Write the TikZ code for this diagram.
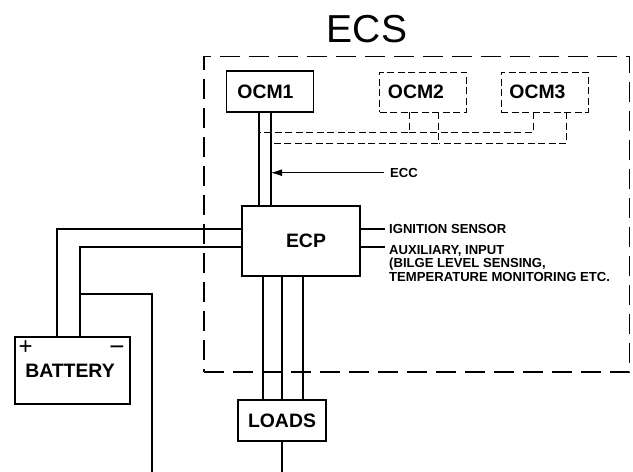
\documentclass[tikz,border=0pt]{standalone}
\usepackage{fontspec}
\setmainfont{Liberation Sans}
\usetikzlibrary{arrows.meta}
\begin{document}
\begin{tikzpicture}[x=1pt,y=-1pt]
    \tikzstyle{every node}=[inner sep=0pt]
    \tikzstyle{wire}=[line width=1.8pt]
    \tikzstyle{dwire}=[line width=.9pt,dash pattern=on 7pt off 3.5pt]
    \tikzstyle{box}=[draw,line width=1.8pt,font=\bfseries\fontsize{19.4}{21}\selectfont]
    \tikzstyle{dbox}=[box,line width=.9pt,dash pattern=on 7pt off 3.5pt]
    \tikzstyle{small}=[font=\bfseries\fontsize{13.1}{13.6}\selectfont,align=left]
    \useasboundingbox(0,0)rectangle(633,472);
    \draw node(ECS)at(367,29){\fontsize{39}{41}\selectfont ECS}
          node(frame)[draw,line width=1.2pt,dash pattern=on 20pt off 9pt,minimum width=425.5pt,minimum height=315.5pt]at(416.75,214.25){};
    \draw node(OCMa)[box,minimum width=87pt,minimum height=41pt]at(270,91.5){OCM1\kern9pt}
          node(OCMb)[dbox,minimum width=87pt,minimum height=40pt]at(423,92){OCM2\kern14pt}
          node(OCMc)[dbox,minimum width=87pt,minimum height=40pt]at(544.5,92){OCM3\kern14pt}
          node(ECP)[box,minimum width=118pt,minimum height=70pt]at(301,241){\kern10pt ECP}
          node(BAT)[box,minimum width=115pt,minimum height=67pt]at(72.5,370.5){BATTERY\kern5pt}
          node(LOADS)[box,minimum width=87.5pt,minimum height=41pt]at(282,420.5){LOADS};
    \draw node(plus)at(25.7,348){\fontsize{24}{24}\selectfont +}
          node(minus)at(117,351){\fontsize{26}{26}\selectfont −};
    \draw node(ECC)[small,anchor=west,inner xsep=6pt]at(384,172.7){ECC}
          node(IGN)[small,anchor=west,inner xsep=4pt]at(385,229){IGNITION SENSOR}
          node(AUX)[small,anchor=north west,inner xsep=4pt]at(385,245){AUXILIARY, INPUT\\(BILGE LEVEL SENSING,\\TEMPERATURE MONITORING ETC.};
    % OCM wires
    \coordinate(a1)at(259,112);
    \coordinate(a2)at(271,112);
    \draw[wire](a1)--(a1|-ECP.north);
    \draw[wire](a2)--(a2|-ECP.north);
    \draw[-{Latex[length=11pt,width=7pt]},line width=.9pt](ECC.west)--(a2|-ECC.west);
    \coordinate(b1)at(409,132);
    \coordinate(b2)at(438.7,143.3);
    \coordinate(c1)at(533,132);
    \coordinate(c2)at(566.7,143.3);
    \draw[dwire](OCMb.south-|b1)--(b1)--(a1|-b1);
    \draw[dwire](OCMb.south-|b2)--(b2)--(a2|-b2);
    \draw[dwire](OCMc.south-|c1)--(c1)--(b1);
    \draw[dwire](OCMc.south-|c2)--(c2)--(b2);
    % ECP side wires
    \coordinate(x1)at(385,247);
    \draw[wire](ECP.east|-IGN.west)--(IGN.west);
    \draw[wire](ECP.east|-x1)--(x1);
    % battery
    \coordinate(p1)at(57,229);
    \coordinate(m1)at(80,247);
    \coordinate(m2)at(80,294);
    \coordinate(m3)at(152,294);
    \coordinate(m4)at(152,472);
    \draw[wire](p1|-BAT.north)--(p1)--(ECP.west|-p1);
    \draw[wire](m1|-BAT.north)--(m1)--(ECP.west|-m1);
    \draw[wire](m2)--(m3)--(m4);
    % loads
    \coordinate(l1)at(263,276);
    \coordinate(l2)at(282,276);
    \coordinate(l3)at(303,276);
    \coordinate(l4)at(282,472);
    \draw[wire](l1)--(l1|-LOADS.north);
    \draw[wire](l2)--(l2|-LOADS.north);
    \draw[wire](l3)--(l3|-LOADS.north);
    \draw[wire](LOADS.south-|l4)--(l4);
\end{tikzpicture}
\end{document}
